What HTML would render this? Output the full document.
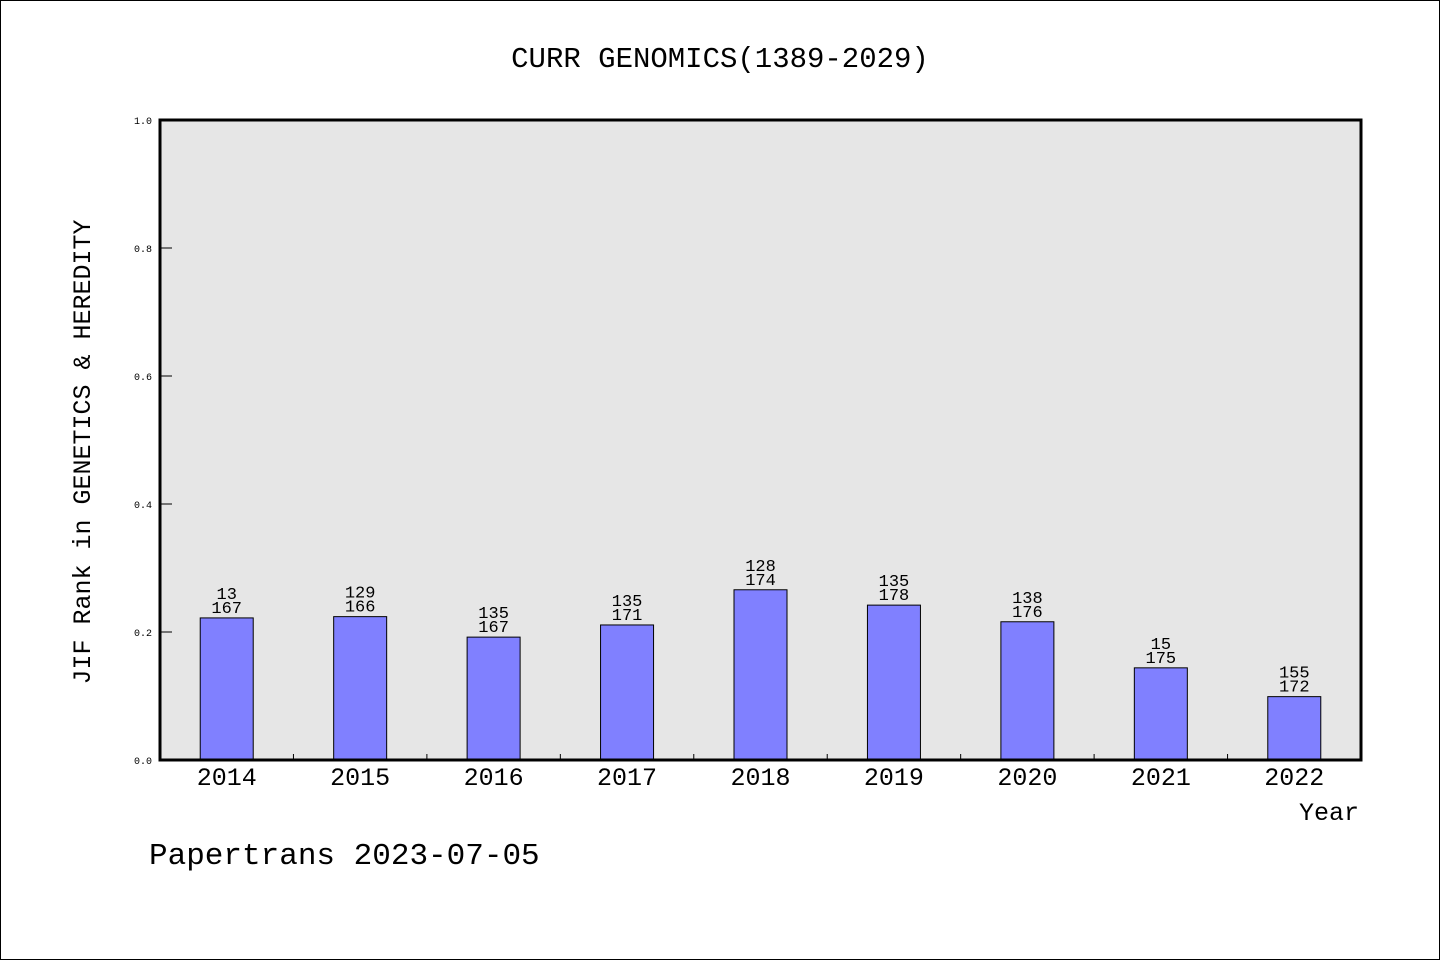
<!DOCTYPE html>
<html><head><meta charset="utf-8"><style>
html,body{margin:0;padding:0;background:#fff;}
svg{display:block;}
text{font-family:"Liberation Mono","DejaVu Sans Mono",monospace;fill:#000;}
</style></head><body>
<svg id="chart" width="1440" height="960">
<rect x="0.5" y="0.5" width="1439" height="959" fill="#fff" stroke="#000"/>
<text x="720" y="67" text-anchor="middle" font-size="29">CURR GENOMICS(1389-2029)</text>
<rect x="160" y="120" width="1201" height="640" fill="#e6e6e6"/>
<g id="yaxis"></g>
<g id="bars"></g>
<rect x="160" y="120" width="1201" height="640" fill="none" stroke="#000" stroke-width="3"/>
<text transform="translate(90,452) rotate(-90)" text-anchor="middle" font-size="25">JIF Rank in GENETICS &amp; HEREDITY</text>
<text x="1359" y="820" text-anchor="end" font-size="25">Year</text>
<text x="149" y="864" font-size="31">Papertrans 2023-07-05</text>
</svg>
<script>
const categories=["2014","2015","2016","2017","2018","2019","2020","2021","2022"];
const values=[0.222,0.224,0.192,0.211,0.266,0.242,0.216,0.144,0.099];
const ranks=["13","129","135","135","128","135","138","15","155"];
const totals=["167","166","167","171","174","178","176","175","172"];
const yTicks=[0,0.2,0.4,0.6,0.8,1.0];
const ns="http://www.w3.org/2000/svg";
const X0=160,X1=1361,Y0=760,Y1=120;
const band=(X1-X0)/categories.length;
const y=v=>Y0-(v/1)*(Y0-Y1);
const xc=i=>X0+band*(i+0.5);
function mk(tag,attrs,parent,txt){const e=document.createElementNS(ns,tag);for(const k in attrs)e.setAttribute(k,attrs[k]);if(txt!==undefined)e.textContent=txt;parent.appendChild(e);return e;}
const ya=document.getElementById('yaxis');
yTicks.forEach(t=>{
  const l=mk('line',{x1:X0,x2:X0+12,y1:y(t),y2:y(t),stroke:'#000','stroke-width':1},ya);
  
  
  const tx=mk('text',{x:X0-8,y:y(t)+4,'text-anchor':'end','font-size':10},ya,t.toFixed(1));
  
  
});
const bg=document.getElementById('bars');
const bw=53;
categories.forEach((c,i)=>{
  const cx=xc(i);
  const r=mk('rect',{x:cx-bw/2,y:y(values[i]),width:bw,height:Y0-y(values[i]),fill:'#8080ff',stroke:'#000','stroke-width':1},bg);
  
  
  const t1=mk('text',{x:cx,y:y(values[i])-19,'text-anchor':'middle','font-size':17},bg,ranks[i]);
  
  
  const t2=mk('text',{x:cx,y:y(values[i])-5,'text-anchor':'middle','font-size':17},bg,totals[i]);
  
  
  const xl=mk('text',{x:cx,y:785,'text-anchor':'middle','font-size':25},bg,c);
  
  
  if(i>0){
    const tk=mk('line',{x1:X0+band*i,x2:X0+band*i,y1:Y0,y2:Y0-6,stroke:'#000','stroke-width':1},bg);
    
    
  }
});
</script>
</body></html>
